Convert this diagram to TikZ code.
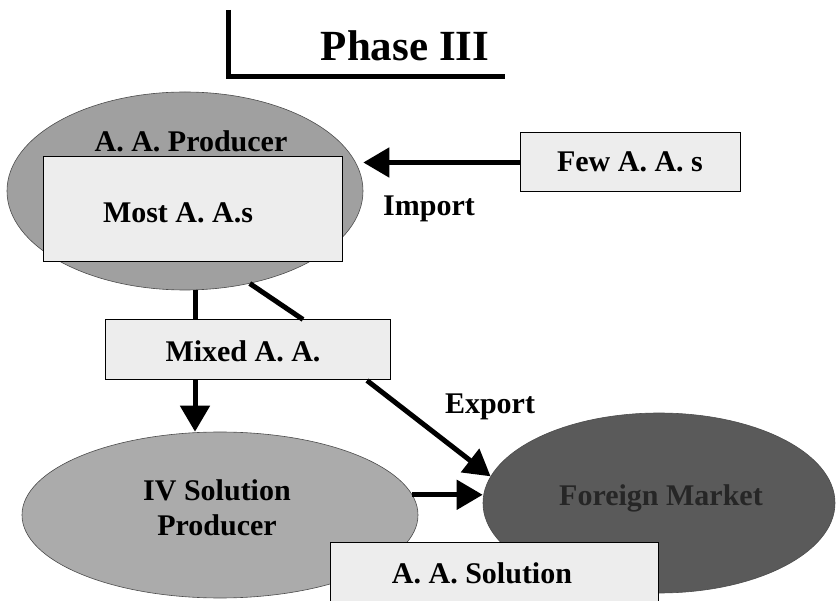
\documentclass[tikz,border=0pt]{standalone}
\usepackage{fontspec}
\setmainfont{Liberation Serif}
\usetikzlibrary{shapes.geometric,arrows.meta}

\definecolor{blobA}{HTML}{A0A0A0}
\definecolor{blobB}{HTML}{ABABAB}
\definecolor{blobC}{HTML}{5A5A5A}
\definecolor{boxfill}{HTML}{EDEDED}

\tikzset{
  blob/.style={ellipse, draw=gray!60!black, line width=0.6pt, inner sep=0pt},
  infobox/.style={rectangle, draw=black, line width=1pt, fill=boxfill, inner sep=0pt},
  lbl/.style={font=\bfseries\fontsize{30}{33}\selectfont, inner sep=0pt},
  flow/.style={line width=5pt},
  flowarrow/.style={line width=5pt, -{Triangle[length=26pt,width=29pt]}}
}

\begin{document}
\begin{tikzpicture}[x=1pt,y=-1pt]
\useasboundingbox (0,0) rectangle (836,601);

% heading with its L-shaped rule
\draw[line width=5pt] (228,10) -- (228,77) -- (505,77);
\node[font=\bfseries\fontsize{43}{46}\selectfont, inner sep=0pt] (title) at (405,46) {Phase III};

% amino acid producer
\node[blob, fill=blobA, minimum width=356pt, minimum height=198pt] (prod) at (185,191) {};
\node[lbl] (prodlbl) at (191,141) {A. A. Producer};
\node[infobox, minimum width=299pt, minimum height=105pt] (most) at (192.5,209.5) {};
\node[lbl] (mostlbl) at (178,213) {Most A. A.s};

% imported share
\node[infobox, minimum width=220pt, minimum height=59pt] (few) at (630,162.5) {};
\node[lbl] (fewlbl) at (630,162) {Few A. A. s};
\draw[flowarrow] (few.west) -- (few.west -| prod.east);
\node[lbl] (import) at (429,209) {Import};

% IV solution producer and foreign market
\node[blob, fill=blobB, minimum width=396pt, minimum height=166pt] (iv) at (220,515) {};
\node[lbl, align=center] (ivlbl) at (217,508) {IV Solution\\[2pt]Producer};
\node[blob, fill=blobC, minimum width=352pt, minimum height=180pt] (market) at (659,503) {};
\node[lbl, text=black!85] (marketlbl) at (661,498) {Foreign Market};

% mixed amino acids
\node[infobox, minimum width=285pt, minimum height=60pt] (mixed) at (247.5,350) {};
\node[lbl] (mixedlbl) at (243,351) {Mixed A. A.};
\node[lbl] (export) at (490,407) {Export};

\draw[flow] ([xshift=10pt]prod.south) -- ([xshift=10pt]prod.south |- mixed.north);
\draw[flowarrow] ([xshift=-52.5pt]mixed.south) -- ([xshift=-52.5pt]mixed.south |- iv.north);
\draw[flow] (prod.-55) -- ([xshift=55.5pt]mixed.north);
\draw[flowarrow] ([xshift=119.5pt]mixed.south) -- (market.171);
\draw[flowarrow] (iv.6) -- (iv.6 -| market.west);

% final product
\node[infobox, minimum width=328pt, minimum height=58pt] (sol) at (494,572) {};
\node[lbl] (sollbl) at (482,573) {A. A. Solution};
\end{tikzpicture}
\end{document}
